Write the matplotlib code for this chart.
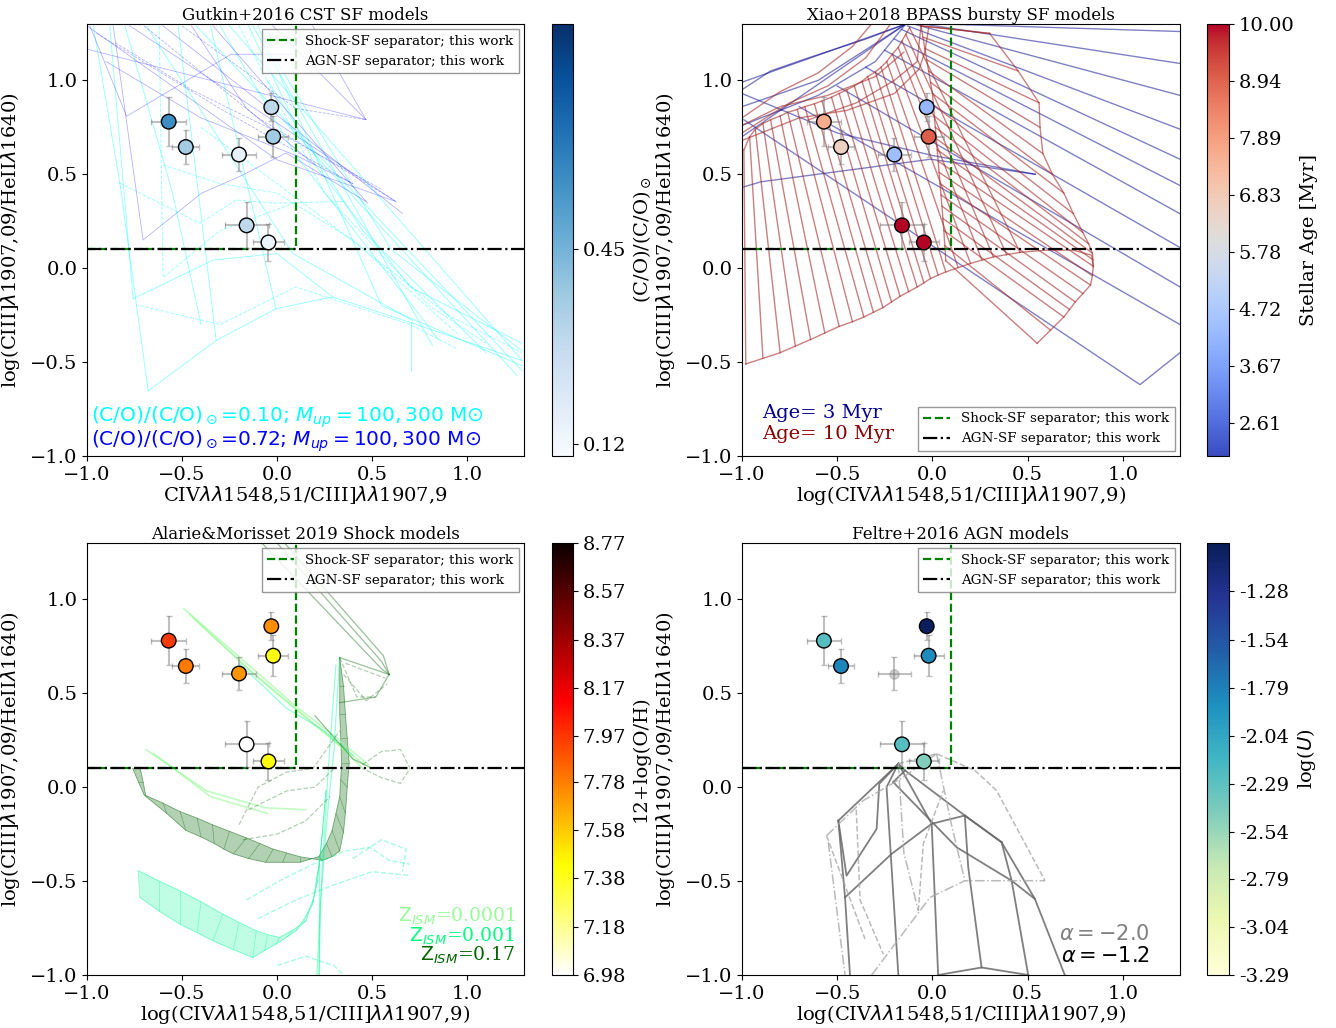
import numpy as np
import matplotlib
matplotlib.use("Agg")
import matplotlib.pyplot as plt
from matplotlib.cm import ScalarMappable
from matplotlib.colors import Normalize
from matplotlib.patches import Polygon

plt.rcParams['font.family'] = ['DejaVu Serif']

# ---------------- observed galaxies ----------------
x_obs = [-0.57, -0.48, -0.20, -0.03, -0.02, -0.16, -0.045]
y_obs = [0.78, 0.645, 0.605, 0.857, 0.70, 0.228, 0.137]
xerr_obs = [0.091, 0.07, 0.087, 0.02, 0.079, 0.116, 0.08]
yerr_obs = [0.13, 0.093, 0.087, 0.075, 0.11, 0.122, 0.098]

co_vals = [0.57, 0.36, 0.16, 0.30, 0.37, 0.30, 0.14]
age_vals = [7.6, 6.6, 4.4, 4.2, 9.0, 10.0, 10.0]
oh_vals = [7.96, 7.79, 7.72, 7.74, 7.42, 6.98, 7.42]
logu_vals = [-2.25, -1.82, np.nan, -1.05, -1.85, -2.25, -2.45]

co_ticks = [0.12, 0.45]
age_ticks = [2.61, 3.67, 4.72, 5.78, 6.83, 7.89, 8.94, 10.00]
oh_ticks = [6.98, 7.18, 7.38, 7.58, 7.78, 7.97, 8.17, 8.37, 8.57, 8.77]
logu_ticks = [-3.29, -3.04, -2.79, -2.54, -2.29, -2.04, -1.79, -1.54, -1.28]

co_range = (0.10, 0.83)
age_range = (2.0, 10.0)
oh_range = (6.98, 8.77)
logu_range = (-3.29, -1.03)

sep_x = 0.1
sep_y = 0.1

# ---------------- Gutkin+2016 model tracks ----------------
gutkin_cyan = [
    [(-0.88, 1.29), (-0.757, -0.163)],
    [(-0.827, 0.453), (-0.678, -0.653)],
    [(-0.678, -0.653), (-0.320, -0.385), (-0.005, -0.216), (0.293, -0.153), (0.695, -0.287)],
    [(0.695, -0.287), (1.290, -0.492)],
    [(0.704, -0.287), (0.704, -0.546)],
    [(-0.424, 1.29), (1.29, -0.546)],
    [(-0.25, 1.29), (1.29, -0.49)],
    [(-0.127, 1.29), (0.818, -0.412)],
    [(0.030, 0.791), (1.264, -0.572)],
    [(-0.687, 1.29), (0.083, 0.078), (0.713, -0.278)],
    [(-0.967, 1.29), (-0.827, 0.453)],
    [(-0.757, -0.163), (-0.337, 0.043), (0.0, 0.078), (0.293, -0.153)],
    [(-0.52, 1.29), (-0.32, -0.385)],
    [(-0.35, 1.29), (-0.005, -0.216)],
    [(-0.10, 1.29), (0.55, -0.20), (1.29, -0.52)],
    [(0.0, 1.10), (0.60, 0.10), (1.29, -0.44)],
    [(-0.30, 1.29), (0.10, 0.60), (0.85, -0.38)],
    [(-0.05, 1.00), (0.45, 0.20), (1.10, -0.45)],
    [(-0.80, 1.29), (-0.55, 0.40), (-0.40, -0.30)],
    [(-0.15, 1.29), (0.20, 0.55), (0.70, -0.10), (1.29, -0.40)],
]
gutkin_cyan_dashed = [
    [(-0.827, 0.453), (-0.407, 0.239), (-0.215, 0.363), (-0.022, 0.346), (0.363, 0.355)],
    [(-0.62, 1.29), (-0.60, -0.05), (-0.30, 0.20), (0.10, 0.35)],
    [(-0.40, 0.75), (0.20, 0.30), (0.90, -0.25), (1.29, -0.45)],
    [(-0.72, -0.20), (-0.30, -0.30), (0.10, -0.10), (0.70, -0.30), (0.95, -0.43)],
    [(-0.20, 1.29), (0.25, 0.40), (0.80, -0.20), (1.10, -0.40)],
    [(-0.60, 0.55), (-0.30, 0.45), (0.00, 0.40), (0.40, 0.15), (0.95, -0.35)],
]
gutkin_blue = [
    [(-0.985, 1.29), (-0.792, 0.809), (-0.241, 1.139), (0.083, 1.139)],
    [(-0.862, 1.29), (-0.705, 0.150), (-0.398, 0.399), (-0.197, 0.488), (0.048, 0.613), (0.468, 0.355)],
    [(-1.0, 1.166), (0.468, 0.791)],
    [(-0.775, 1.29), (0.625, 0.355)],
    [(-0.60, 1.29), (0.660, 0.292)],
    [(-0.337, 1.29), (0.477, 0.346)],
    [(-0.022, 1.29), (0.468, 0.791)],
    [(-1.0, 1.29), (0.0, 0.577), (0.625, 0.355)],
    [(0.188, 1.29), (0.468, 0.791)],
    [(-0.45, 1.29), (-0.16, 0.85), (0.20, 0.55)],
    [(-0.90, 1.10), (-0.40, 0.80), (0.10, 0.60), (0.40, 0.45)],
]
gutkin_blue_dashed = [
    [(-0.95, 1.25), (-0.30, 0.85), (0.40, 0.45)],
    [(-0.70, 1.29), (-0.10, 0.80), (0.62, 0.36)],
    [(-0.50, 1.29), (0.10, 0.85), (0.47, 0.79)],
    [(-0.85, 1.20), (-0.45, 0.95), (0.05, 0.70), (0.55, 0.42)],
]

# ---------------- Xiao+2018 BPASS grids ----------------
xiao_red_top = [(-0.99, 0.63), (-0.96, 0.70), (-0.93, 0.74), (-0.89, 0.77), (-0.85, 0.79), (-0.80, 0.81),
                (-0.76, 0.83), (-0.71, 0.845), (-0.67, 0.86), (-0.62, 0.875), (-0.58, 0.89), (-0.53, 0.91),
                (-0.49, 0.93), (-0.45, 0.95), (-0.41, 0.97), (-0.37, 0.995), (-0.34, 1.02), (-0.30, 1.045),
                (-0.27, 1.07), (-0.24, 1.10), (-0.21, 1.14), (-0.18, 1.175), (-0.16, 1.21), (-0.14, 1.245),
                (-0.12, 1.28)]
xiao_red_bottom = [(-0.98, -0.51), (-0.89, -0.48), (-0.80, -0.45), (-0.72, -0.415), (-0.64, -0.38), (-0.565, -0.345),
                   (-0.49, -0.31), (-0.42, -0.285), (-0.36, -0.26), (-0.31, -0.235), (-0.26, -0.21), (-0.215, -0.18),
                   (-0.17, -0.15), (-0.125, -0.125), (-0.08, -0.10), (-0.045, -0.078), (-0.01, -0.055), (0.03, -0.037),
                   (0.07, -0.02), (0.135, 0.003), (0.20, 0.025), (0.26, 0.043), (0.32, 0.06), (0.39, 0.072),
                   (0.46, 0.084)]
xiao_red_right_start = [(-0.06, 1.29), (-0.05, 1.23), (-0.04, 1.17), (-0.03, 1.11), (-0.02, 1.05), (-0.01, 0.99),
                        (0.0, 0.93), (0.005, 0.87), (0.01, 0.81), (0.015, 0.75), (0.02, 0.69), (0.025, 0.63),
                        (0.03, 0.57), (0.035, 0.51), (0.04, 0.45), (0.045, 0.39), (0.05, 0.33), (0.055, 0.265),
                        (0.06, 0.20), (0.065, 0.12), (0.07, 0.04)]
xiao_red_right_end = [(0.30, 1.25), (0.45, 1.05), (0.56, 0.88), (0.565, 0.75), (0.58, 0.61), (0.63, 0.50),
                      (0.69, 0.40), (0.74, 0.29), (0.79, 0.19), (0.82, 0.13), (0.84, 0.08), (0.843, 0.045),
                      (0.845, 0.01), (0.84, -0.04), (0.83, -0.09), (0.79, -0.135), (0.75, -0.18), (0.72, -0.22),
                      (0.69, -0.26), (0.62, -0.33), (0.55, -0.40)]
xiao_red_curves = [
    [(-1.0, 0.72), (-0.75, 0.88), (-0.55, 0.97), (-0.35, 1.12), (-0.22, 1.30)],
    [(-1.0, 0.80), (-0.80, 0.94), (-0.60, 1.04), (-0.42, 1.18), (-0.32, 1.30)],
    [(-1.0, 0.68), (-0.70, 0.80), (-0.45, 0.84), (-0.20, 0.93), (-0.07, 1.06), (-0.04, 1.15), (-0.02, 1.28)],
    [(-0.65, 0.79), (-0.40, 0.88), (-0.20, 1.00), (-0.08, 1.10), (-0.06, 1.29)],
    [(-1.0, 0.76), (-0.80, 0.86), (-0.55, 0.92), (-0.30, 1.02), (-0.15, 1.15)],
    [(-0.06, 1.29), (0.30, 1.25)],
    [(0.46, 0.084), (0.599, 0.096), (0.739, 0.096), (0.836, 0.069), (0.844, 0.007)],
]
xiao_blue = [
    [(0.05, 1.30), (1.30, 1.26)],
    [(-0.05, 1.30), (1.30, 1.09)],
    [(-0.10, 1.30), (1.30, 0.92)],
    [(-0.13, 1.29), (1.30, 0.74)],
    [(-0.16, 1.27), (1.30, 0.58)],
    [(-0.20, 1.22), (1.30, 0.44)],
    [(-0.25, 1.16), (1.30, 0.29)],
    [(-0.35, 1.07), (1.30, 0.11)],
    [(-0.50, 0.97), (1.30, -0.10)],
    [(-0.70, 0.86), (1.30, -0.30)],
    [(-0.99, 0.79), (1.09, -0.62), (1.30, -0.45)],
    [(-1.0, 0.99), (-0.14, 1.30)],
    [(-1.0, 0.70), (-0.14, 1.30)],
    [(-1.0, 0.86), (-0.60, 1.00), (-0.14, 1.30)],
    [(-1.0, 0.43), (-0.90, 0.46), (-0.01, 0.58), (0.54, 0.50)],
    [(-1.0, 0.93), (-0.50, 0.72), (0.0, 0.60), (0.54, 0.50)],
    [(-1.0, 0.95), (-0.85, 1.05), (-0.65, 1.12), (-0.35, 1.22), (-0.14, 1.30)],
    [(-1.0, 0.76), (-0.60, 0.92), (-0.30, 1.10), (-0.14, 1.30)],
]

# ---------------- Alarie & Morisset 2019 shock grids ----------------
am_dark_a = [(-0.76, 0.10), (-0.73, 0.03), (-0.70, -0.04), (-0.60, -0.085), (-0.51, -0.13), (-0.42, -0.165),
             (-0.34, -0.20), (-0.25, -0.235), (-0.16, -0.27), (-0.09, -0.30), (-0.02, -0.33), (0.05, -0.35),
             (0.12, -0.37), (0.18, -0.38), (0.24, -0.39), (0.29, -0.37), (0.33, -0.34), (0.35, -0.24),
             (0.36, -0.14), (0.37, 0.0), (0.38, 0.13), (0.37, 0.26), (0.36, 0.39), (0.35, 0.54), (0.33, 0.69)]
am_dark_b = [(-0.72, 0.10), (-0.705, 0.03), (-0.69, -0.05), (-0.58, -0.14), (-0.48, -0.23), (-0.40, -0.265),
             (-0.33, -0.30), (-0.28, -0.33), (-0.23, -0.355), (-0.15, -0.38), (-0.06, -0.40), (0.03, -0.40),
             (0.12, -0.40), (0.17, -0.385), (0.22, -0.37), (0.26, -0.30), (0.29, -0.23), (0.31, -0.14),
             (0.33, -0.05), (0.335, 0.04), (0.34, 0.13), (0.335, 0.26), (0.33, 0.39), (0.33, 0.54), (0.33, 0.69)]
am_spring_a = [(-0.731, -0.444), (-0.62, -0.50), (-0.512, -0.551), (-0.40, -0.61), (-0.285, -0.676),
               (-0.20, -0.72), (-0.110, -0.764), (-0.05, -0.785), (0.013, -0.800), (0.085, -0.76),
               (0.153, -0.711), (0.19, -0.60), (0.214, -0.498), (0.228, -0.36), (0.240, -0.231), (0.258, -0.018)]
am_spring_b = [(-0.722, -0.587), (-0.62, -0.66), (-0.512, -0.729), (-0.42, -0.775), (-0.337, -0.818),
               (-0.23, -0.865), (-0.127, -0.907), (-0.065, -0.87), (-0.005, -0.836), (0.05, -0.80),
               (0.100, -0.764), (0.15, -0.69), (0.188, -0.622), (0.205, -0.51), (0.223, -0.409), (0.258, -0.018)]
am_pale = [
    [(-0.49, 0.95), (-0.16, 0.66), (0.10, 0.43), (0.28, 0.29), (0.48, 0.12)],
    [(-0.46, 0.92), (-0.14, 0.62), (0.12, 0.40), (0.30, 0.25), (0.45, 0.10)],
    [(-0.44, 0.90), (-0.12, 0.60), (0.14, 0.38), (0.32, 0.23), (0.46, 0.12)],
    [(-0.69, 0.20), (-0.37, -0.02), (-0.06, -0.11), (0.15, -0.12)],
    [(-0.65, 0.18), (-0.35, -0.05), (-0.05, -0.14)],
]
am_spring = [
    [(-0.20, 0.66), (0.05, 0.42), (0.25, 0.30), (0.40, 0.17)],
    [(0.33, 0.69), (0.30, 0.20), (0.26, -0.20), (0.23, -0.60), (0.22, -1.0)],
    [(0.31, 0.65), (0.27, 0.10), (0.24, -0.40), (0.21, -1.0)],
    [(0.22, -0.41), (0.22, -1.0)],
]
am_dark = [
    [(-0.08, 1.30), (0.55, 0.63), (0.59, 0.60)],
    [(0.00, 1.30), (0.55, 0.67), (0.59, 0.60)],
    [(0.04, 1.30), (0.56, 0.70), (0.59, 0.60)],
    [(0.59, 0.60), (0.33, 0.69)],
    [(0.59, 0.60), (0.52, 0.48), (0.33, 0.45)],
    [(0.20, 0.38), (0.40, 0.15), (0.50, 0.10)],
]
am_dark_dashed = [
    [(0.33, 0.69), (0.42, 0.48), (0.52, 0.48)],
    [(0.36, 0.66), (0.57, 0.58)],
    [(0.35, 0.60), (0.47, 0.46), (0.58, 0.55)],
    [(-0.20, -0.20), (-0.10, 0.0), (0.05, 0.08), (0.19, 0.10), (0.33, 0.30)],
    [(-0.18, -0.28), (0.0, -0.25), (0.15, -0.18), (0.28, -0.05)],
    [(-0.15, -0.12), (0.05, -0.02), (0.20, 0.0), (0.30, 0.10)],
    [(0.45, 0.12), (0.55, 0.19), (0.65, 0.20), (0.70, 0.10), (0.65, 0.02), (0.55, 0.05), (0.45, 0.10)],
]
am_pale_dashed = [
    [(-0.16, -0.60), (0.01, -0.50), (0.19, -0.41), (0.36, -0.34), (0.49, -0.32), (0.59, -0.39), (0.70, -0.41)],
    [(-0.10, -0.70), (0.10, -0.60), (0.30, -0.52), (0.50, -0.45), (0.70, -0.47)],
    [(0.40, -0.38), (0.55, -0.28), (0.68, -0.33), (0.66, -0.45)],
    [(0.0, -0.95), (0.15, -0.90), (0.30, -0.95), (0.35, -1.0)],
]

# ---------------- Feltre+2016 AGN grids ----------------
feltre_a12 = [
    [(-0.494, -0.178), (-0.451, -0.471), (-0.293, -0.222), (-0.279, 0.018), (-0.179, 0.125)],
    [(-0.494, -0.178), (-0.459, -0.587), (-0.433, -1.0)],
    [(-0.459, -0.587), (-0.214, -0.355), (-0.004, -0.195), (0.170, -0.151), (0.363, -0.293), (0.538, -0.595), (0.695, -1.0)],
    [(-0.494, -0.178), (-0.179, 0.125)],
    [(-0.179, 0.125), (-0.241, 0.0), (-0.179, -1.0)],
    [(-0.179, 0.125), (-0.004, -0.195), (0.030, -1.0)],
    [(-0.206, 0.027), (0.127, -0.320), (0.416, -0.498), (0.538, -0.595)],
    [(-0.144, 0.089), (0.170, -0.151), (0.363, -0.293)],
    [(0.170, -0.151), (0.188, -0.427), (0.258, -0.960)],
    [(0.363, -0.293), (0.416, -0.498), (0.503, -1.0)],
    [(0.030, -1.0), (0.258, -0.960), (0.503, -1.0)],
    [(-0.206, 0.027), (-0.144, 0.089), (-0.179, 0.125)],
]
feltre_a20_dashed = [
    [(-0.556, -0.258), (-0.354, -0.809)],
    [(-0.179, 0.125), (0.022, 0.178), (0.223, 0.089), (0.337, -0.018), (0.591, -0.498)],
    [(-0.074, -0.658), (-0.048, -0.302), (0.057, -0.018)],
    [(-0.40, -0.12), (-0.38, -0.60), (-0.258, -0.889)],
]
feltre_a20_dashdot = [
    [(-0.556, -0.258), (-0.363, -0.071), (-0.153, 0.053), (0.022, 0.178)],
    [(-0.319, -1.0), (-0.013, -0.587), (0.170, -0.498), (0.591, -0.498)],
    [(-0.547, -0.293), (-0.459, -1.0)],
    [(-0.179, 0.125), (-0.15, -0.35), (-0.074, -0.658)],
    [(0.022, 0.178), (0.10, -0.20), (0.17, -0.498)],
]

# ---------------- figure ----------------
W, H = 1336, 1028
fig = plt.figure(figsize=(W / 100, H / 100), dpi=100)

def px_ax(l, t, r, b):
    return [l / W, 1 - b / H, (r - l) / W, (b - t) / H]

axs = [fig.add_axes(px_ax(87, 24, 524, 456)), fig.add_axes(px_ax(742, 24, 1180, 456)),
       fig.add_axes(px_ax(87, 543, 524, 975)), fig.add_axes(px_ax(742, 543, 1180, 975))]
caxs = [fig.add_axes(px_ax(552, 24, 573, 456)), fig.add_axes(px_ax(1207, 24, 1229, 456)),
        fig.add_axes(px_ax(552, 543, 573, 975)), fig.add_axes(px_ax(1207, 543, 1229, 975))]

titles = ['Gutkin+2016 CST SF models', 'Xiao+2018 BPASS bursty SF models',
          'Alarie&Morisset 2019 Shock models', 'Feltre+2016 AGN models']
xlabels = [r'CIV$\lambda\lambda$1548,51/CIII]$\lambda\lambda$1907,9',
           r'log(CIV$\lambda\lambda$1548,51/CIII]$\lambda\lambda$1907,9)',
           r'log(CIV$\lambda\lambda$1548,51/CIII]$\lambda\lambda$1907,9)',
           r'log(CIV$\lambda\lambda$1548,51/CIII]$\lambda\lambda$1907,9)']
ylabel = r'log(CIII]$\lambda$1907,09/HeII$\lambda$1640)'


def plot_lines(ax, lines, **kw):
    for ln in lines:
        arr = np.array(ln)
        ax.plot(arr[:, 0], arr[:, 1], **kw)


def plot_rungs(ax, a, b, **kw):
    for p, q in zip(a, b):
        ax.plot([p[0], q[0]], [p[1], q[1]], **kw)


# Panel 1
ax = axs[0]
plot_lines(ax, gutkin_cyan, color='cyan', lw=0.7, alpha=0.38)
plot_lines(ax, gutkin_cyan_dashed, color='cyan', lw=0.7, alpha=0.38, ls='--')
plot_lines(ax, gutkin_blue, color='blue', lw=0.6, alpha=0.3)
plot_lines(ax, gutkin_blue_dashed, color='blue', lw=0.6, alpha=0.3, ls='--')

# Panel 2
ax = axs[1]
plot_lines(ax, xiao_blue, color='darkblue', lw=1.0, alpha=0.5)
red_kw = dict(color='brown', lw=1.0, alpha=0.6)
plot_rungs(ax, xiao_red_top, xiao_red_bottom, **red_kw)
plot_rungs(ax, xiao_red_right_start, xiao_red_right_end, **red_kw)
plot_lines(ax, [xiao_red_top, xiao_red_bottom, xiao_red_right_start, xiao_red_right_end], **red_kw)
plot_lines(ax, xiao_red_curves, **red_kw)

# Panel 3
ax = axs[2]
for ea, eb, col, fa in [(am_dark_a, am_dark_b, 'darkgreen', 0.3), (am_spring_a, am_spring_b, 'mediumspringgreen', 0.25)]:
    poly = Polygon(np.vstack([np.array(ea), np.array(eb)[::-1]]), closed=True,
                   facecolor=col, alpha=fa, edgecolor='none')
    ax.add_patch(poly)
    plot_lines(ax, [ea, eb], color=col, lw=0.6, alpha=0.5)
    plot_rungs(ax, ea, eb, color=col, lw=0.5, alpha=0.4)
plot_lines(ax, am_pale, color='palegreen', lw=1.2, alpha=0.6)
plot_lines(ax, am_spring, color='mediumspringgreen', lw=0.9, alpha=0.4)
plot_lines(ax, am_dark, color='darkgreen', lw=0.9, alpha=0.4)
plot_lines(ax, am_dark_dashed, color='darkgreen', lw=0.9, alpha=0.3, ls='--')
plot_lines(ax, am_pale_dashed, color='mediumspringgreen', lw=1.0, alpha=0.35, ls='--')

# Panel 4
ax = axs[3]
plot_lines(ax, feltre_a12, color='dimgray', lw=1.3, alpha=0.85)
plot_lines(ax, feltre_a20_dashed, color='darkgray', lw=1.1, alpha=0.8, ls='--')
plot_lines(ax, feltre_a20_dashdot, color='darkgray', lw=1.1, alpha=0.8, ls='-.')

# common elements
cmaps = ['Blues', 'coolwarm', 'hot_r', 'YlGnBu']
vals = [co_vals, age_vals, oh_vals, logu_vals]
ranges = [co_range, age_range, oh_range, logu_range]
ticks = [co_ticks, age_ticks, oh_ticks, logu_ticks]
cblabels = [r'(C/O)/(C/O)$_\odot$', 'Stellar Age [Myr]', '12+log(O/H)', r'log($U$)']
legend_locs = ['upper right', 'lower right', 'upper right', 'upper right']

for i, ax in enumerate(axs):
    ax.plot([-1.0, sep_x, sep_x], [sep_y, sep_y, 1.3], color='green', ls='--', lw=1.6,
            label='Shock-SF separator; this work', zorder=3)
    ax.plot([-1.0, 1.3], [sep_y, sep_y], color='black', ls='-.', lw=1.6,
            label='AGN-SF separator; this work', zorder=3)
    ax.errorbar(x_obs, y_obs, xerr=xerr_obs, yerr=yerr_obs, fmt='none', ecolor='gray',
                alpha=0.5, capsize=2.5, elinewidth=1.5, zorder=4)
    norm = Normalize(*ranges[i])
    v = np.array(vals[i], dtype=float)
    good = ~np.isnan(v)
    ax.scatter(np.array(x_obs)[good], np.array(y_obs)[good], c=v[good], cmap=cmaps[i], norm=norm,
               s=110, edgecolors='black', linewidths=1.0, zorder=5)
    if (~good).any():
        ax.scatter(np.array(x_obs)[~good], np.array(y_obs)[~good], color='gray', alpha=0.35, s=45, zorder=5)
    ax.set_xlim(-1.0, 1.3)
    ax.set_ylim(-1.0, 1.3)
    ax.set_xticks([-1.0, -0.5, 0.0, 0.5, 1.0])
    ax.set_yticks([-1.0, -0.5, 0.0, 0.5, 1.0])
    ax.tick_params(labelsize=14)
    ax.set_title(titles[i], fontsize=12, pad=3)
    ax.set_xlabel(xlabels[i], fontsize=14, labelpad=0)
    ax.set_ylabel(ylabel, fontsize=14, labelpad=6)
    ax.legend(loc=legend_locs[i], fontsize=9.7, fancybox=False, edgecolor='gray', framealpha=0.8,
              borderaxespad=0.4)

    sm = ScalarMappable(norm=norm, cmap=cmaps[i])
    cb = fig.colorbar(sm, cax=caxs[i], ticks=ticks[i])
    cb.ax.set_yticklabels(['%.2f' % t for t in ticks[i]])
    cb.ax.tick_params(labelsize=14)
    cb.set_label(cblabels[i], fontsize=14)

# annotations
axs[0].text(0.01, 0.08, r'(C/O)/(C/O)$_\odot$=0.10; $M_{up}=100, 300$ M$\odot$', color='cyan',
            fontsize=14.5, family='DejaVu Sans', transform=axs[0].transAxes)
axs[0].text(0.01, 0.024, r'(C/O)/(C/O)$_\odot$=0.72; $M_{up}=100, 300$ M$\odot$', color='blue',
            fontsize=14.5, family='DejaVu Sans', transform=axs[0].transAxes)
axs[1].text(0.045, 0.087, 'Age= 3 Myr', color='darkblue', fontsize=14, transform=axs[1].transAxes)
axs[1].text(0.045, 0.04, 'Age= 10 Myr', color='darkred', fontsize=14, transform=axs[1].transAxes)
axs[2].text(0.98, 0.124, r'$\mathrm{Z}_{ISM}$=0.0001', color='palegreen', fontsize=13.5, ha='right',
            transform=axs[2].transAxes)
axs[2].text(0.98, 0.078, r'$\mathrm{Z}_{ISM}$=0.001', color='springgreen', fontsize=13.5, ha='right',
            transform=axs[2].transAxes)
axs[2].text(0.98, 0.032, r'$\mathrm{Z}_{ISM}$=0.17', color='darkgreen', fontsize=13.5, ha='right',
            transform=axs[2].transAxes)
axs[3].text(0.93, 0.08, r'$\alpha=-2.0$', color='gray', fontsize=15, ha='right', transform=axs[3].transAxes)
axs[3].text(0.93, 0.03, r'$\alpha=-1.2$', color='black', fontsize=15, ha='right', transform=axs[3].transAxes)

fig.savefig('out.png', dpi=100)
